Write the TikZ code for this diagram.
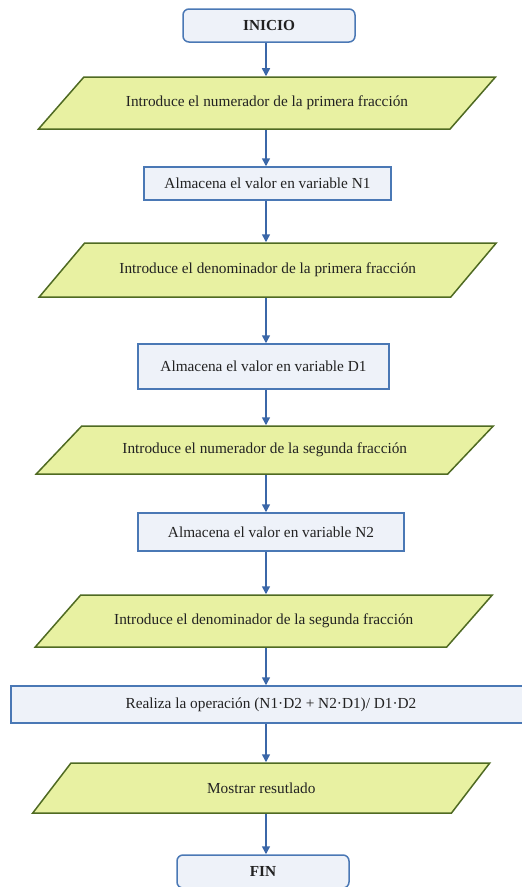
\documentclass[tikz,border=0pt]{standalone}
\usepackage{fontspec}
\setmainfont{Liberation Serif}
\usetikzlibrary{arrows.meta, shapes.geometric}

\definecolor{boxfill}{HTML}{EEF2F9}
\definecolor{boxline}{HTML}{4A78B5}
\definecolor{datafill}{HTML}{E8F1A2}
\definecolor{dataline}{HTML}{4F6A22}
\definecolor{flowline}{HTML}{3B67A8}
\definecolor{ink}{HTML}{222222}

\tikzset{
  terminal/.style={draw=boxline, fill=boxfill, line width=1.5pt, rounded corners=6pt,
    minimum width=172pt, minimum height=33pt, font=\fontsize{15.3}{17}\selectfont\bfseries},
  process/.style={draw=boxline, fill=boxfill, line width=1.5pt, minimum height=33pt},
  data/.style={trapezium, trapezium left angle=24.5, trapezium right angle=155.5,
    trapezium stretches body, draw=dataline, fill=datafill, line width=1.5pt,
    minimum width=457pt, minimum height=52pt},
  flow/.style={draw=flowline, line width=1.5pt, -{Triangle[length=8pt,width=8pt]}}
}

\begin{document}
\begin{tikzpicture}[x=1pt, y=-1pt, text=ink, font=\fontsize{15.3}{17}\selectfont]
\useasboundingbox (0,0) rectangle (522,887);
\coordinate (axis) at (266,0);
% Start
\node[terminal] (inicio) at (269,25.5) {INICIO};
% First fraction
\node[data] (num1) at (267,103) {Introduce el numerador de la primera fracción};
\node[process, minimum width=247pt] (valN1) at (267.5,183.5) {Almacena el valor en variable N1};
\node[data, minimum height=54pt] (den1) at (267.75,270) {Introduce el denominador de la primera fracción};
\node[process, minimum width=251pt, minimum height=45pt] (valD1) at (263.5,366.5) {Almacena el valor en variable D1};
% Second fraction
\node[data, minimum height=48pt] (num2) at (264.75,450) {Introduce el numerador de la segunda fracción};
\node[process, minimum width=266pt, minimum height=38pt] (valN2) at (271,532) {Almacena el valor en variable N2};
\node[data] (den2) at (263.75,621) {Introduce el denominador de la segunda fracción};
% Operation and output
\node[process, minimum width=520pt, minimum height=37pt] (oper) at (271,704.5) {Realiza la operación (N1·D2 + N2·D1)/ D1·D2};
\node[data, minimum height=50pt] (mostrar) at (261.25,788) {Mostrar resutlado};
% End
\node[terminal] (fin) at (263,871.5) {FIN};
% Connectors
\draw[flow] (inicio.south -| axis) -- (num1.north -| axis);
\draw[flow] (num1.south -| axis) -- (valN1.north -| axis);
\draw[flow] (valN1.south -| axis) -- (den1.north -| axis);
\draw[flow] (den1.south -| axis) -- (valD1.north -| axis);
\draw[flow] (valD1.south -| axis) -- (num2.north -| axis);
\draw[flow] (num2.south -| axis) -- (valN2.north -| axis);
\draw[flow] (valN2.south -| axis) -- (den2.north -| axis);
\draw[flow] (den2.south -| axis) -- (oper.north -| axis);
\draw[flow] (oper.south -| axis) -- (mostrar.north -| axis);
\draw[flow] (mostrar.south -| axis) -- (fin.north -| axis);
\end{tikzpicture}
\end{document}
